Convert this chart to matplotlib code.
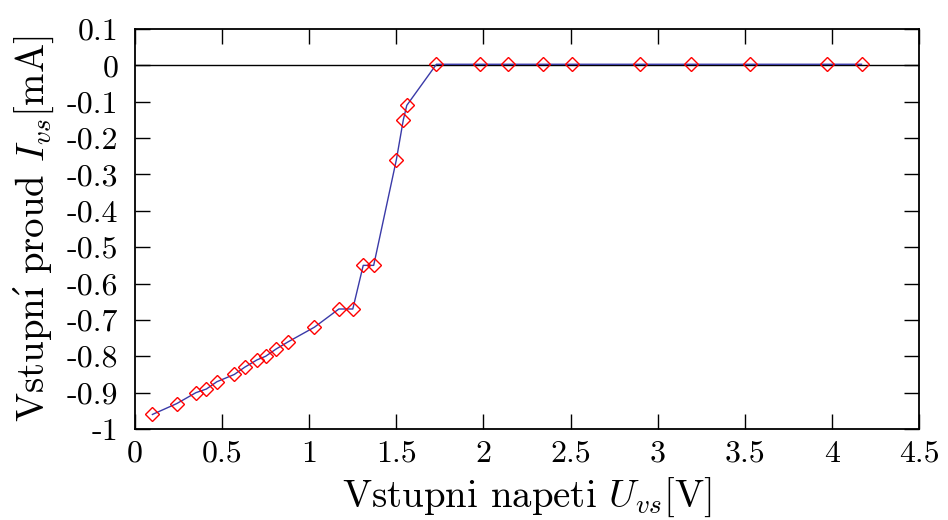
import matplotlib
matplotlib.use('agg')
import matplotlib.pyplot as plt
from matplotlib.ticker import FuncFormatter, MultipleLocator

# measured input characteristic
u_vs = [0.10, 0.24, 0.35, 0.41, 0.47, 0.57, 0.63, 0.70, 0.75, 0.81, 0.88,
        1.03, 1.17, 1.25, 1.31, 1.37, 1.50, 1.54, 1.56, 1.73, 1.98, 2.14,
        2.34, 2.51, 2.90, 3.19, 3.53, 3.97, 4.17]
i_vs = [-0.96, -0.93, -0.90, -0.89, -0.87, -0.85, -0.83, -0.81, -0.80, -0.78, -0.76,
        -0.72, -0.67, -0.67, -0.55, -0.55, -0.26, -0.15, -0.11, 0.003, 0.003, 0.003,
        0.003, 0.003, 0.003, 0.003, 0.003, 0.003, 0.003]

plt.rcParams['font.family'] = ['cmr10', 'DejaVu Serif']
plt.rcParams['mathtext.fontset'] = 'cm'
plt.rcParams['axes.unicode_minus'] = False

fig = plt.figure(figsize=(9.48, 5.2), dpi=100)
ax = fig.add_axes([135 / 948, 1 - 429 / 520, 784 / 948, 400 / 520])

ax.axhline(0, color='black', linewidth=1.0, zorder=1)
ax.plot(u_vs, i_vs, color='#3a3aa8', linewidth=1.0, zorder=2)
ax.plot(u_vs, i_vs, linestyle='none', marker='D', markersize=6.8,
        markerfacecolor='none', markeredgecolor='#ff0000', markeredgewidth=1.0, zorder=3)

ax.set_xlim(0, 4.5)
ax.set_ylim(-1, 0.1)
ax.xaxis.set_major_locator(MultipleLocator(0.5))
ax.yaxis.set_major_locator(MultipleLocator(0.1))
fmt = FuncFormatter(lambda v, p: '%g' % round(v, 2))
ax.xaxis.set_major_formatter(fmt)
ax.yaxis.set_major_formatter(fmt)

ax.tick_params(direction='in', length=11, width=1.0, top=True, right=True,
               labelsize=23)
ax.tick_params(axis='x', pad=8)
ax.tick_params(axis='y', pad=12)
for s in ax.spines.values():
    s.set_linewidth(1.3)

ax.set_xlabel('Vstupni napeti $U_{vs}$[V]', fontsize=28, labelpad=6)
# cmr10 has no í, so put an upright accent on a dotless i
ax.set_ylabel(r'Vstupn$\acute{\mathrm{ı}}$ proud $I_{vs}$[mA]', fontsize=28, labelpad=8)

plt.savefig('out.png', dpi=100)
